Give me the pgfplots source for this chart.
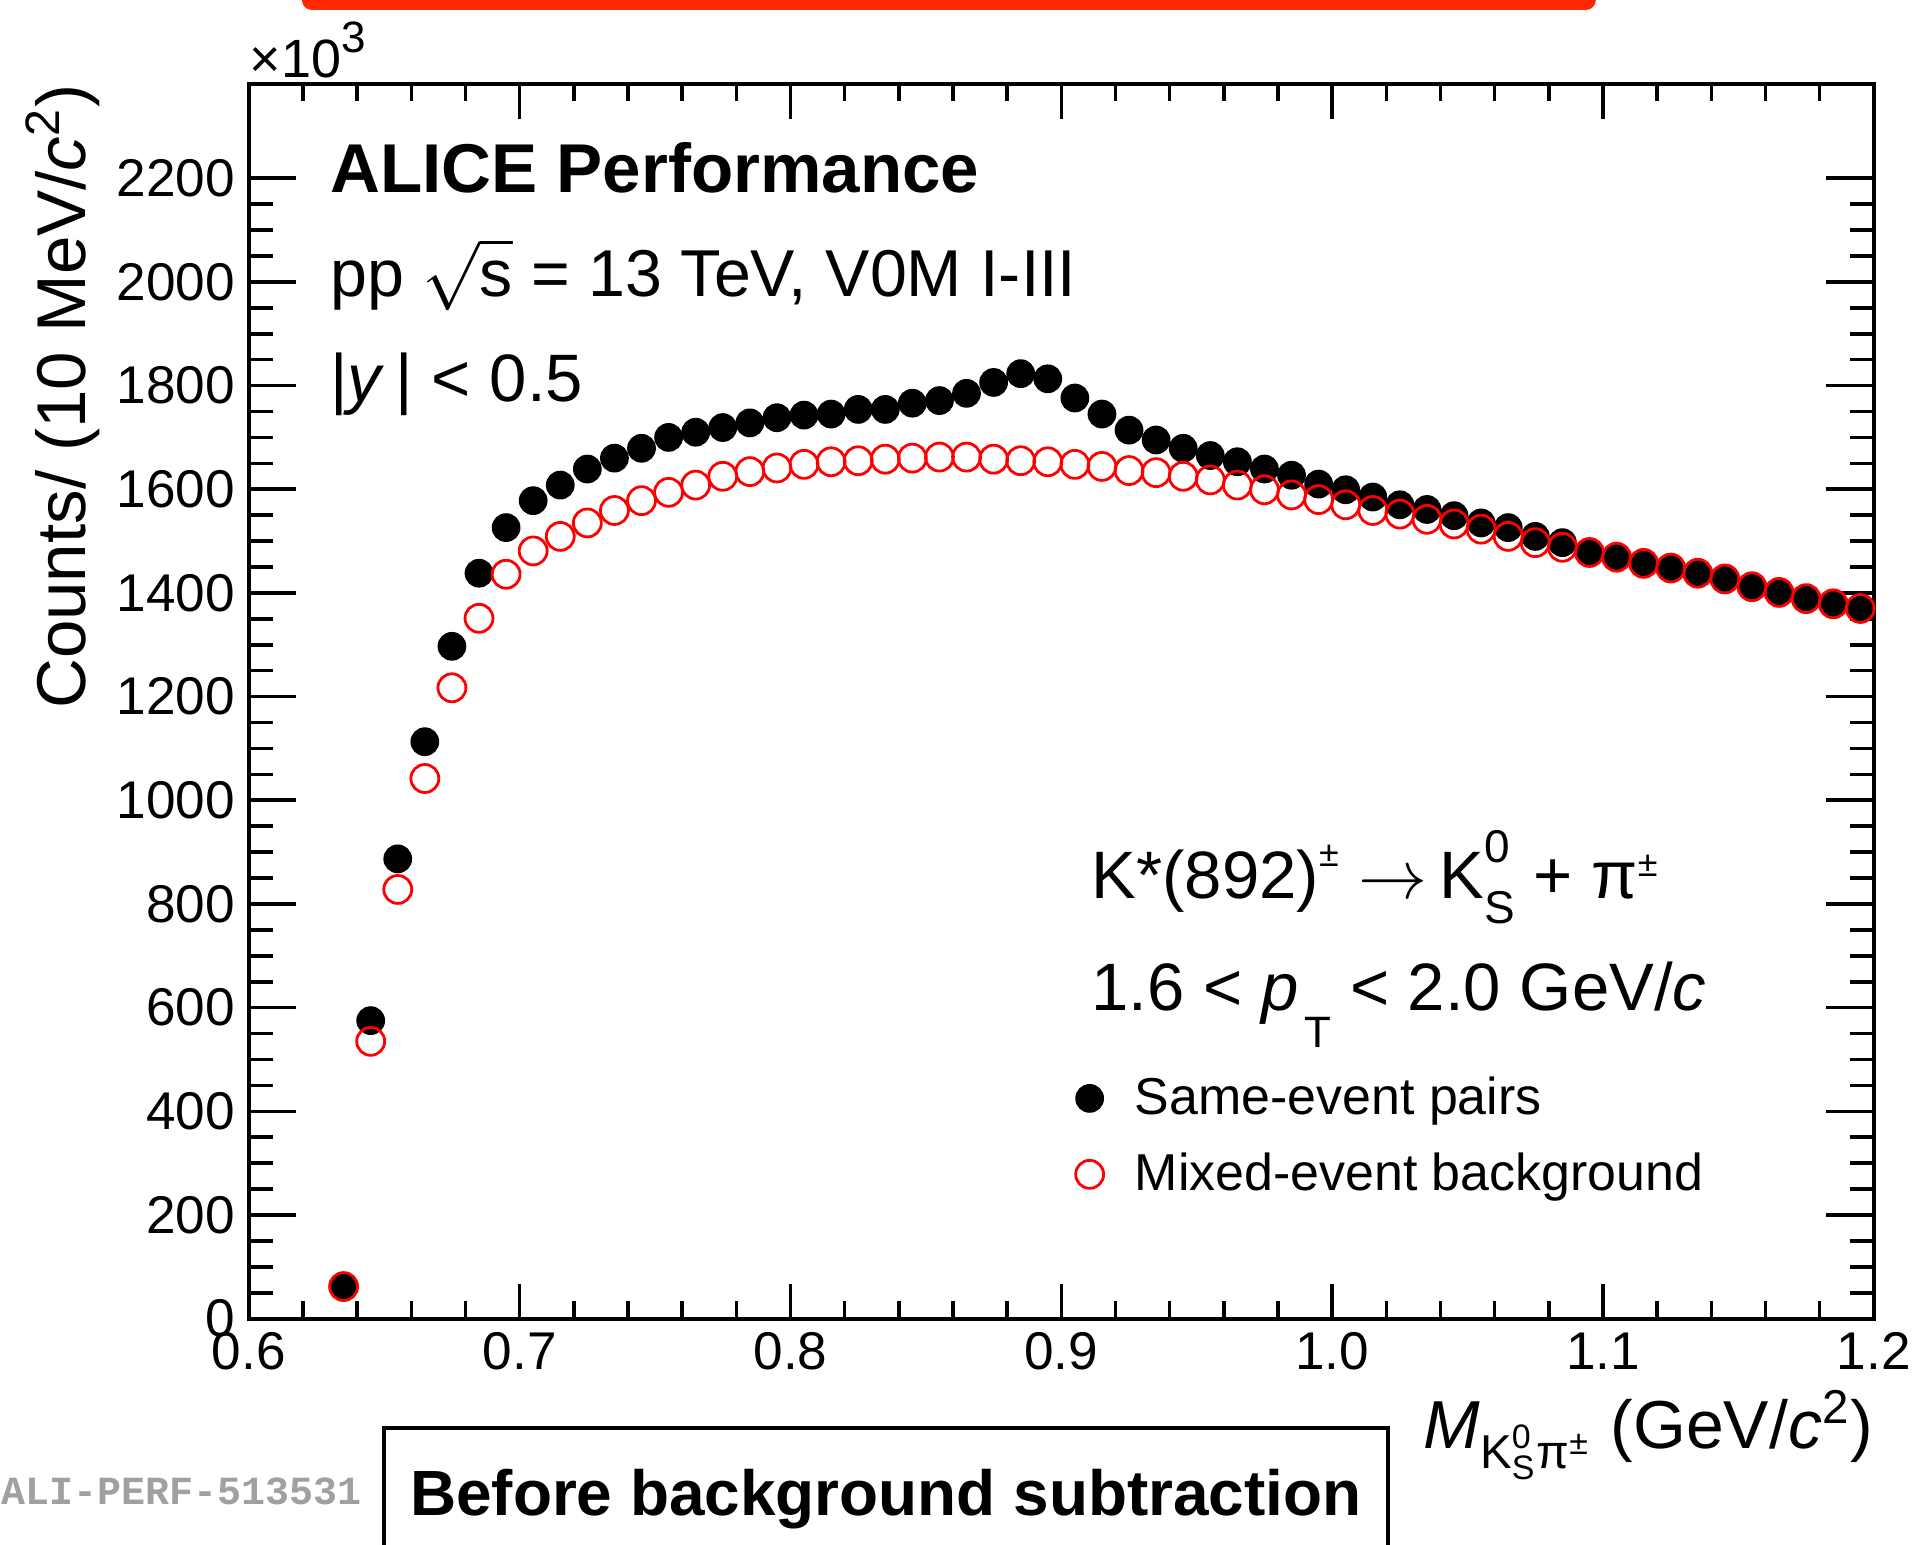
\documentclass[border=0pt]{standalone}
\usepackage{amsmath}
\usepackage{fontspec}
\setmainfont{Liberation Sans}
\setmonofont{Liberation Mono}
\usepackage{pgfplots}
\pgfplotsset{compat=1.18}
\usepackage{pgfplotstable}
\definecolor{barred}{RGB}{255,40,0}
\definecolor{idgray}{RGB}{160,160,160}
\newcommand{\rsup}[2]{\raisebox{#1}{\fontsize{9}{10}\selectfont #2}}

\pgfplotstableread{
x y
0.635 62
0.645 575
0.655 887
0.665 1113
0.675 1297
0.685 1438
0.695 1526
0.705 1578
0.715 1608
0.725 1639
0.735 1660
0.745 1679
0.755 1700
0.765 1710
0.775 1719
0.785 1728
0.795 1738
0.805 1743
0.815 1745
0.825 1754
0.835 1754
0.845 1766
0.855 1771
0.865 1785
0.875 1806
0.885 1823
0.895 1813
0.905 1776
0.915 1745
0.925 1714
0.935 1695
0.945 1679
0.955 1665
0.965 1653
0.975 1639
0.985 1627
0.995 1610
1.005 1599
1.015 1585
1.025 1570
1.035 1561
1.045 1549
1.055 1535
1.065 1526
1.075 1509
1.085 1497
1.095 1478
1.105 1469
1.115 1457
1.125 1448
1.135 1438
1.145 1427
1.155 1412
1.165 1401
1.175 1389
1.185 1379
1.195 1372
}\sameevent

\pgfplotstableread{
x y
0.635 62
0.645 535
0.655 828
0.665 1042
0.675 1217
0.685 1351
0.695 1436
0.705 1481
0.715 1509
0.725 1535
0.735 1559
0.745 1578
0.755 1594
0.765 1608
0.775 1625
0.785 1634
0.795 1641
0.805 1648
0.815 1653
0.825 1655
0.835 1658
0.845 1660
0.855 1662
0.865 1662
0.875 1658
0.885 1655
0.895 1653
0.905 1648
0.915 1644
0.925 1636
0.935 1632
0.945 1625
0.955 1618
0.965 1608
0.975 1599
0.985 1589
0.995 1580
1.005 1570
1.015 1559
1.025 1552
1.035 1542
1.045 1533
1.055 1523
1.065 1509
1.075 1497
1.085 1488
1.095 1478
1.105 1469
1.115 1457
1.125 1448
1.135 1438
1.145 1427
1.155 1412
1.165 1401
1.175 1389
1.185 1379
1.195 1370
}\mixedevent

\begin{document}
\begin{tikzpicture}
\path[use as bounding box] (-62.3pt,-56.6pt) rectangle (417.7pt,330.2pt);
\clip (-62.3pt,-56.6pt) rectangle (417.7pt,330.2pt);
\begin{axis}[
  at={(0pt,0pt)}, anchor=south west,
  scale only axis, width=406.9pt, height=309.2pt,
  xmin=0.6, xmax=1.2, ymin=0, ymax=2382,
  xtick={0.6,0.7,0.8,0.9,1.0,1.1,1.2},
  minor x tick num=4,
  ytick={0,200,400,600,800,1000,1200,1400,1600,1800,2000,2200},
  minor y tick num=3,
  tick align=inside,
  tick pos=both,
  axis line style={line width=1.1pt},
  major tick length=8.8pt, minor tick length=4.4pt,
  tick style={black, line width=0.9pt},
  ytick style={/pgfplots/major tick length=11.9pt, /pgfplots/minor tick length=6pt},
  scaled ticks=false,
  xticklabel style={/pgf/number format/.cd, fixed, fixed zerofill, precision=1, assume math mode=true},
  yticklabel style={/pgf/number format/.cd, fixed, precision=0, 1000 sep={}, assume math mode=true},
  ticklabel style={font=\fontsize{13.3}{15}\selectfont},
  ylabel={Counts/ (10 MeV/\textit{c}\textsuperscript{2})},
  ylabel style={at={(axis description cs:-0.1008,1)}, anchor=base east, inner sep=0pt, font=\fontsize{17.3}{20}\selectfont},
  xlabel={\textit{M}$_{\text{K}^{\text{0}}_{\text{S}}\text{π}^{\text{±}}}$ (GeV/\textit{c}\textsuperscript{2})},
  xlabel style={at={(axis description cs:1,-0.1048)}, anchor=base east, inner sep=0pt, font=\fontsize{17}{20}\selectfont},
  legend style={at={(axis cs:0.905,484)}, anchor=north west, draw=none, fill=none,
    font=\fontsize{13}{15}\selectfont, row sep=4.1pt, inner sep=0pt,
    /tikz/every odd column/.append style={column sep=5.8pt}},
  legend cell align=left,
]
\addplot[only marks, mark=*, mark size=3.4pt, black, mark options={fill=black}] table[x=x,y=y] {\sameevent};
\addlegendentry{Same-event pairs}
\addplot[only marks, mark=o, mark size=3.5pt, red, line width=0.7pt] table[x=x,y=y] {\mixedevent};
\addlegendentry{Mixed-event background}

\node[anchor=base west, inner sep=0pt] at (axis cs:0.6298,2172) {\fontsize{17.3}{20}\selectfont\bfseries ALICE Performance};
\node[anchor=base west, inner sep=0pt] at (axis cs:0.6298,1972) {\fontsize{16.6}{20}\selectfont pp\ $\sqrt{\mbox{s}}$ = 13 TeV, V0M I-III};
\node[anchor=base west, inner sep=0pt] at (axis cs:0.6298,1770) {\fontsize{16.8}{20}\selectfont |\textit{y}\,| < 0.5};
\node[anchor=base west, inner sep=0pt] at (axis cs:0.9109,810) {\fontsize{16.8}{20}\selectfont K*(892)\rsup{8pt}{±}\hspace{5pt}$\rightarrow$\hspace{3pt}K\rlap{\raisebox{9pt}{\fontsize{11.5}{12}\selectfont 0}}\raisebox{-6.2pt}{\fontsize{11.5}{12}\selectfont S} + π\rsup{5.5pt}{±}};
\node[anchor=base west, inner sep=0pt] at (axis cs:0.9109,595) {\fontsize{16.8}{20}\selectfont 1.6 < \textit{p}\hspace{1.5pt}\raisebox{-9.4pt}{\fontsize{11}{12}\selectfont T} < 2.0 GeV/\textit{c}};
\end{axis}
% decorations
\fill[barred, rounded corners=2.5pt] (13.3pt,327.7pt) rectangle (337.3pt,345pt);
\node[anchor=base west, inner sep=0pt] at (0pt,310.7pt) {\fontsize{13.5}{15}\selectfont ×10\raisebox{6.3pt}{\fontsize{11}{12}\selectfont 3}};
\draw[line width=1pt] (33.8pt,-80pt) -- (33.8pt,-27.3pt) -- (285.2pt,-27.3pt) -- (285.2pt,-80pt);
\node[anchor=base west, inner sep=0pt] at (40.2pt,-49.3pt) {\fontsize{16}{18}\selectfont\bfseries Before background subtraction};
\node[anchor=base east, inner sep=0pt, text=idgray] at (28.3pt,-46.6pt) {\fontsize{10}{12}\selectfont\ttfamily\bfseries ALI-PERF-513531};
\end{tikzpicture}
\end{document}
